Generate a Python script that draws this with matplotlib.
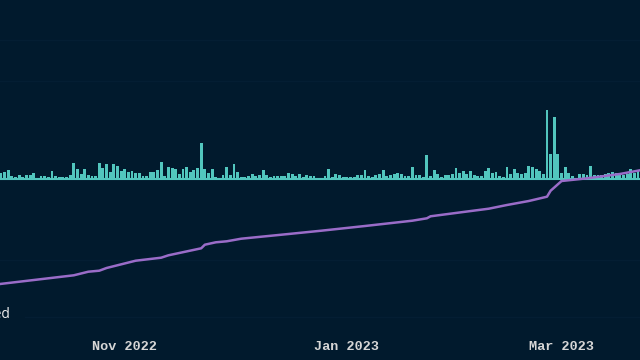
import matplotlib
matplotlib.use("Agg")
import matplotlib.pyplot as plt
import matplotlib.dates as mdates
import numpy as np
import pandas as pd

# ---- data ----
bar_start = "2022-09-28"
bar_values = [
    6, 7, 9, 3, 2, 4, 2, 4, 4, 6, 1, 3, 3, 2, 8, 3, 2, 2, 2, 4,
    16, 10, 5, 10, 4, 3, 3, 16, 11, 15, 7, 15, 13, 8, 10, 7, 8, 6, 6, 3,
    3, 7, 7, 9, 17, 3, 12, 11, 10, 5, 10, 12, 7, 9, 11, 36,
    10, 6, 10, 2, 1, 4, 12, 4, 15, 7, 2, 2, 3, 5, 3, 4, 9, 4, 2, 3,
    3, 3, 3, 6, 5, 3, 5, 2, 4, 3, 3, 1, 1, 3, 10, 2, 5, 4, 2, 2,
    2, 2, 4, 4, 9, 3, 2, 4, 5, 9, 3, 4, 5, 6,
    5, 3, 3, 12, 4, 4, 2, 24, 3, 9, 5, 2, 4, 4, 5, 11, 6, 8, 5, 8,
    4, 3, 3, 8, 11, 6, 7, 3, 2, 12, 5, 10, 6, 5, 6, 13, 12, 10, 8, 5,
    69, 25, 62, 25, 6, 12, 6, 3, 1, 5, 5, 4, 13, 4, 4, 4, 5, 6, 7, 6,
    6, 4, 5, 10, 6, 9,
]
bar_dates = pd.date_range(bar_start, periods=len(bar_values), freq="D")

line_dates = pd.to_datetime([
    "2022-09-27", "2022-10-18", "2022-10-22", "2022-10-25", "2022-10-27",
    "2022-11-04", "2022-11-11", "2022-11-13", "2022-11-22", "2022-11-23",
    "2022-11-26", "2022-11-29", "2022-12-03", "2022-12-16", "2022-12-25",
    "2023-01-06", "2023-01-19", "2023-01-23", "2023-01-24", "2023-02-02",
    "2023-02-09", "2023-02-14", "2023-02-20", "2023-02-25", "2023-02-26",
    "2023-02-27", "2023-03-01", "2023-03-08", "2023-03-17", "2023-03-23",
])
line_values = [
    757, 847, 883, 893, 920,
    993, 1023, 1047, 1117, 1153,
    1177, 1187, 1213, 1260, 1293,
    1340, 1393, 1417, 1437, 1480,
    1513, 1550, 1590, 1633, 1693,
    1725, 1790, 1817, 1860, 1900,
]
line_label = "Completed"

tick_dates = pd.to_datetime(["2022-11-01", "2023-01-01", "2023-03-01"])

# ---- style ----
BG = "#011a2d"
GRID = "#041e33"
TEAL = "#52c6be"
PURPLE = "#9a6cc8"

W, H = 640, 360
fig = plt.figure(figsize=(6.4, 3.6), dpi=100, facecolor=BG)

# background/grid axes in pixel space
axg = fig.add_axes([0, 0, 1, 1])
axg.set_xlim(0, W)
axg.set_ylim(H, 0)
axg.axis("off")
axg.set_facecolor(BG)
for gy in (40, 81, 260):
    axg.axhline(gy, color=GRID, lw=1)
axg.plot([25, W], [317, 317], color=GRID, lw=1)

pos = [0, 27 / H, 1, 1 - 27 / H]
x0 = pd.Timestamp(bar_start) - pd.Timedelta(hours=24 * 1 / 3.64)
x1 = x0 + pd.Timedelta(days=640 / 3.64)

axb = fig.add_axes(pos)
axb.patch.set_alpha(0)
axb.bar(bar_dates, bar_values, width=0.8, color=TEAL, edgecolor="none", zorder=2)
axb.axhline(0, color=TEAL, lw=1.5, zorder=3)
axb.set_ylim(-154, 179)
axb.set_xlim(x0, x1)

axl = fig.add_axes(pos)
axl.patch.set_alpha(0)
axl.plot(line_dates, line_values, color=PURPLE, lw=1.8, solid_capstyle="round", zorder=4)
axl.set_ylim(270, 3600)
axl.set_xlim(x0, x1)

for a in (axb, axl):
    for s in a.spines.values():
        s.set_visible(False)
    a.set_yticks([])
axl.set_xticks([])
axb.set_xticks(tick_dates)
axb.xaxis.set_major_formatter(mdates.DateFormatter("%b %Y"))
axb.tick_params(axis="x", length=0, pad=6, colors="#d6d6d6")
for t in axb.get_xticklabels():
    t.set_fontfamily("Liberation Mono")
    t.set_fontweight("bold")
    t.set_fontsize(9.7)

fig.text(10 / W, 1 - 315 / H, line_label, ha="right", va="center",
         color="#f0f0f0", fontsize=10, family="Open Sans")

fig.savefig("out.png", dpi=100, facecolor=BG)
